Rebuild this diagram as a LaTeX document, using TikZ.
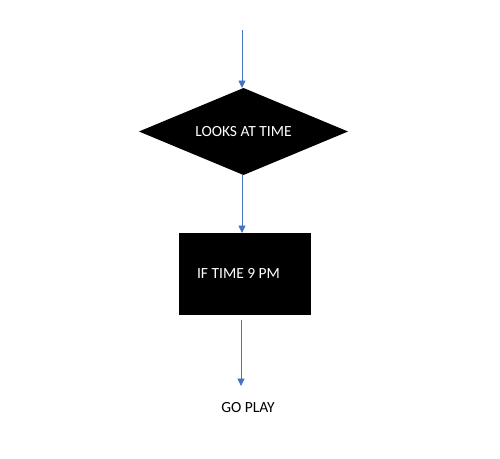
\documentclass[tikz,border=0pt]{standalone}
\usepackage{fontspec}
\setmainfont{Carlito}
\usetikzlibrary{arrows.meta}
\definecolor{arrowblue}{HTML}{4472C4}
\tikzset{
  conn/.style={draw=arrowblue, line width=0.8pt, -{Triangle[length=7.5pt,width=7pt]}},
  txt/.style={font=\fontsize{15.5}{18}\selectfont},
}
\begin{document}
\begin{tikzpicture}[x=1pt,y=-1pt]
\useasboundingbox (0,0) rectangle (500,458);
\coordinate (start) at (242,30);
\path[fill=black] (139,131.5) -- (243.5,88) -- (348,131.5) -- (243.5,175) -- cycle;
\node[txt, text=white] (dectext) at (243.5,132) {LOOKS AT TIME};
\coordinate (dectop) at (242,88);
\coordinate (decbot) at (242,175);
\node[fill=black, minimum width=132pt, minimum height=82pt, inner sep=0pt, anchor=north west] (box) at (179,233) {};
\node[txt, text=white] (boxtext) at (238.5,273) {IF TIME 9 PM};
\coordinate (boxtop) at (242,233);
\coordinate (boxout) at (241,320);
\coordinate (goin) at (241,386);
\node[txt, text=black] (go) at (248,408) {GO PLAY};
\draw[conn] (start) -- (dectop);
\draw[conn] (decbot) -- (boxtop);
\draw[conn] (boxout) -- (goin);
\end{tikzpicture}
\end{document}
